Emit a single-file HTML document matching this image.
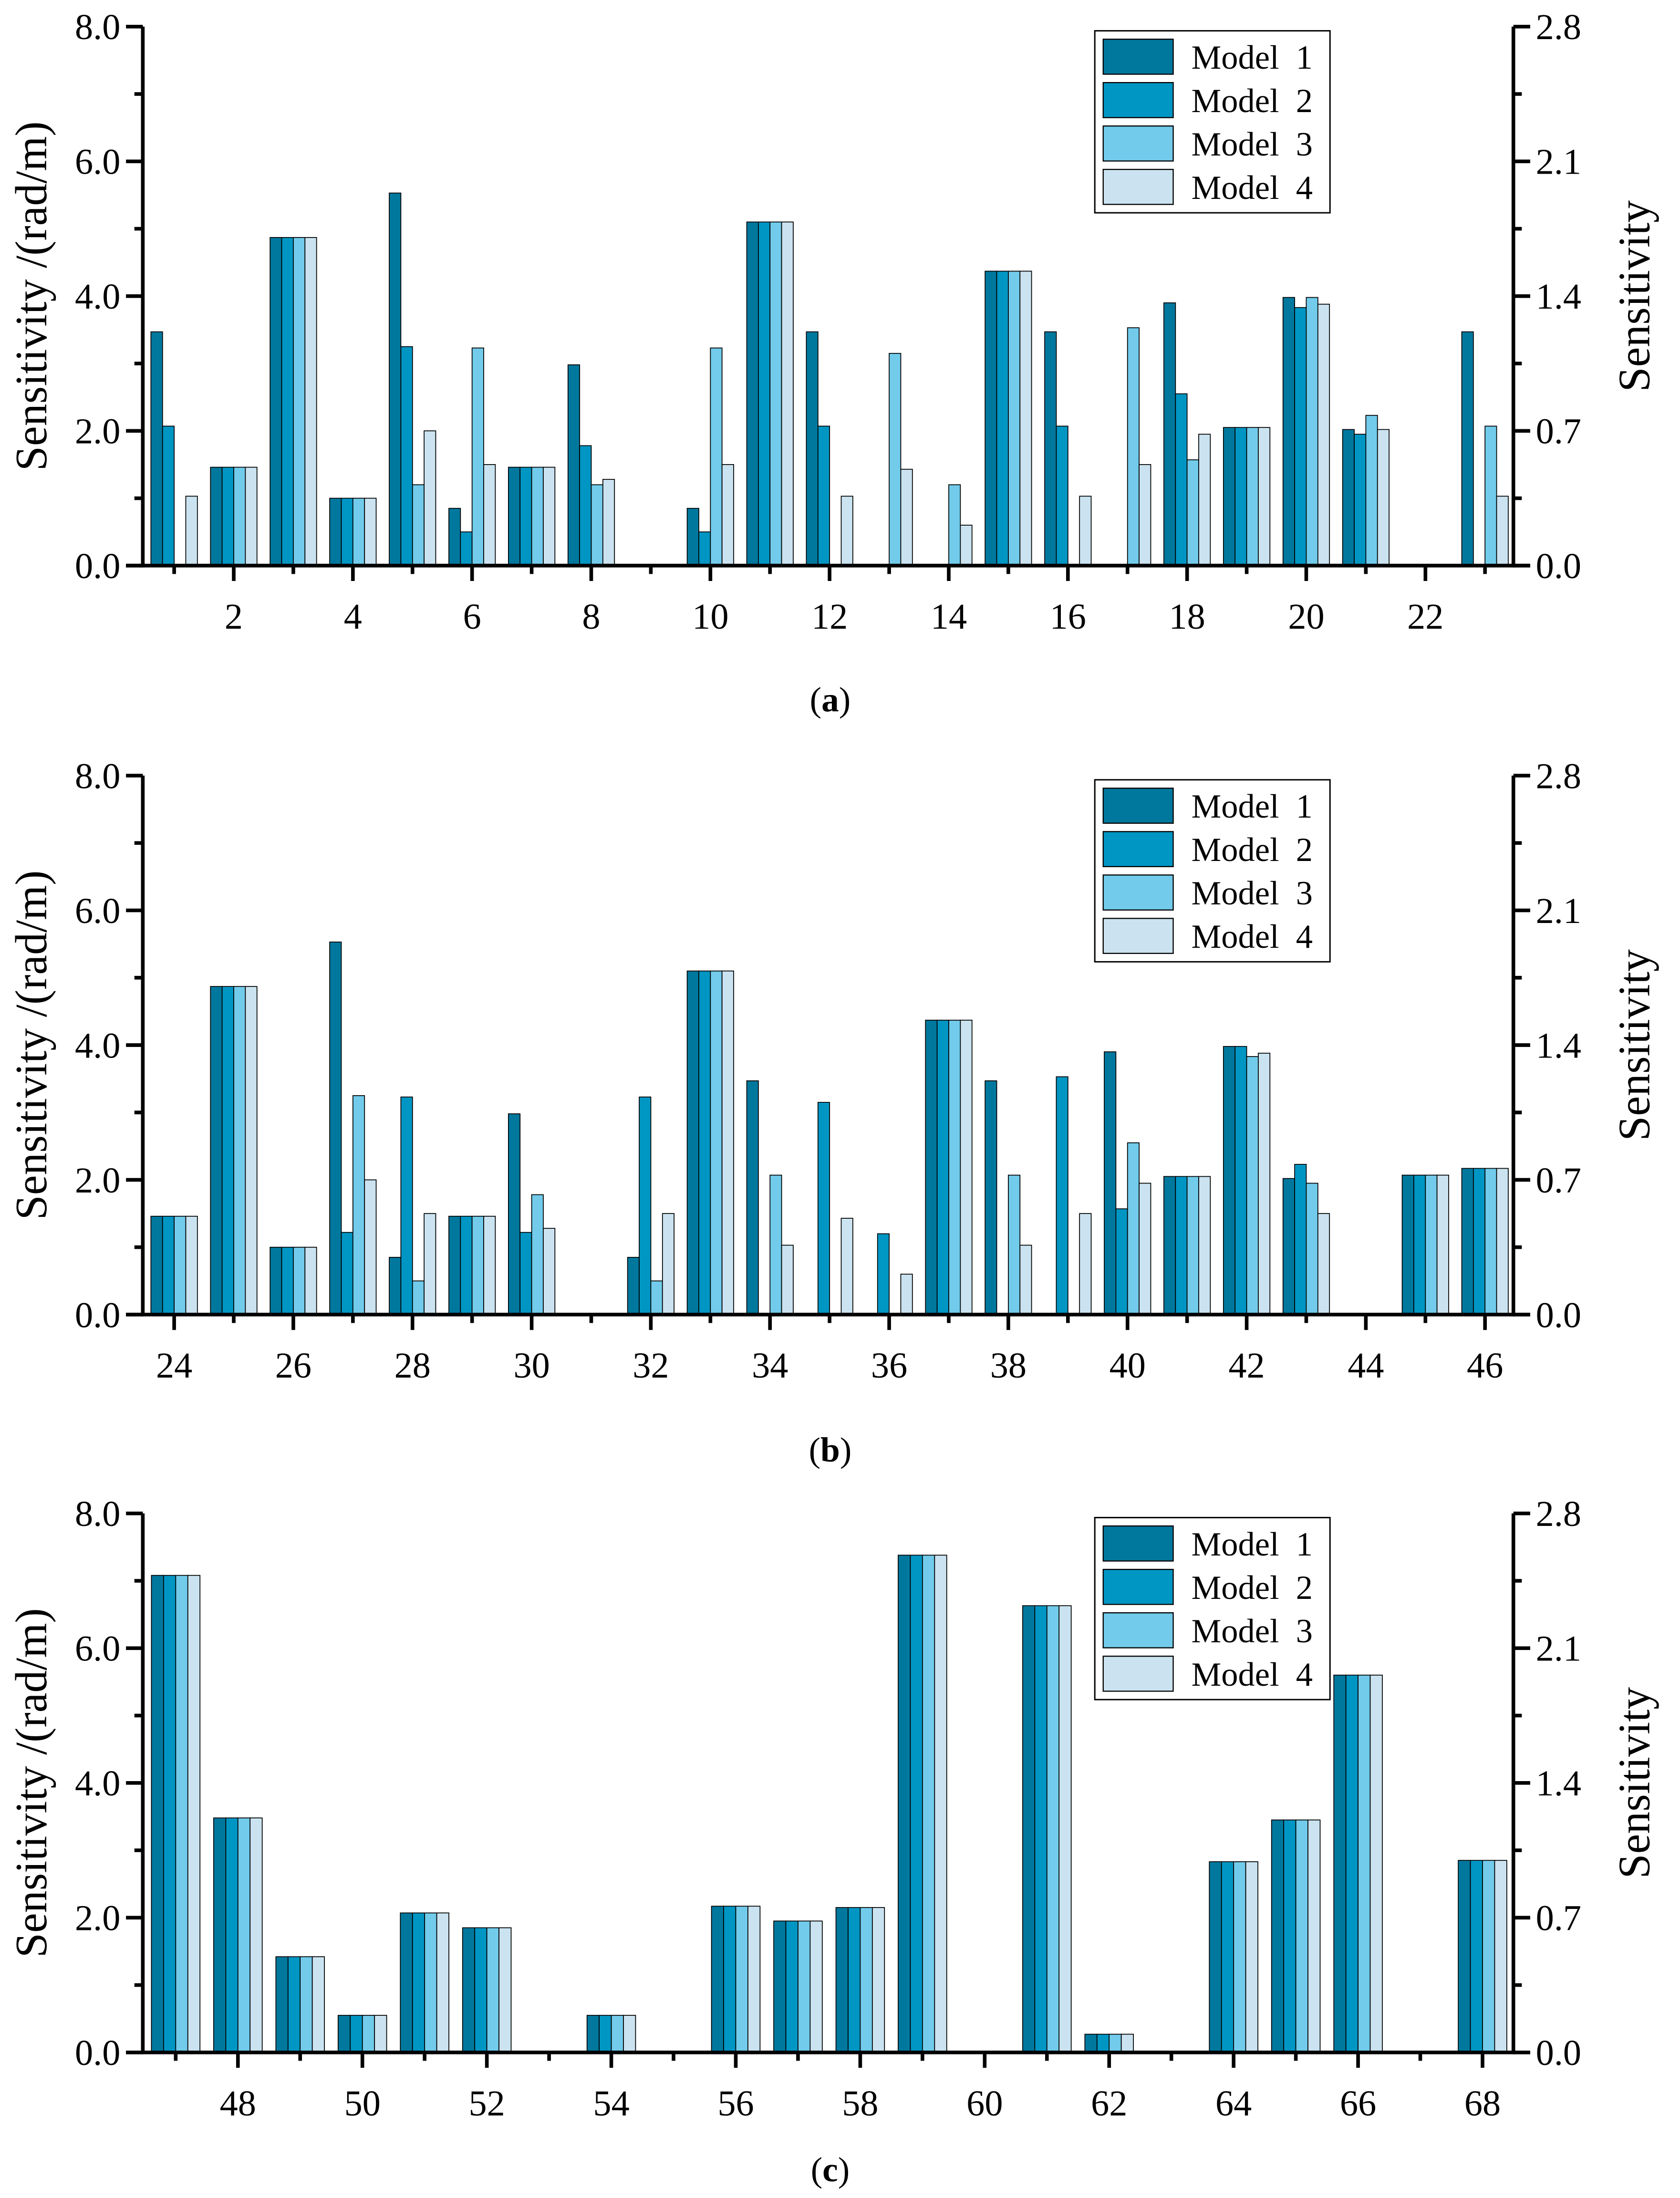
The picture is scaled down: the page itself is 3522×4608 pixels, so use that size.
<!DOCTYPE html>
<html><head><meta charset="utf-8"><style>
html,body{margin:0;padding:0;background:#fff;}
svg{display:block;}
svg text{font-family:"Liberation Serif","Times New Roman",serif;}
</style></head><body>
<svg id="fig" width="3522" height="4608" viewBox="0 0 1200 1570" preserveAspectRatio="none" xmlns="http://www.w3.org/2000/svg" font-family="Liberation Serif, serif"></svg>
<script>
const modelNames = ["Model  1","Model  2","Model  3","Model  4"];
const modelColors = ["#00789e","#0096c4","#72cbea","#cbe3f0"];
const yTicksLeft = ["0.0","2.0","4.0","6.0","8.0"];
const yTicksRight = ["0.0","0.7","1.4","2.1","2.8"];

const catsA = [1,2,3,4,5,6,7,8,9,10,11,12,13,14,15,16,17,18,19,20,21,22,23];
const a_m1 = [3.47,1.46,4.87,1.0,5.53,0.85,1.46,2.98,0,0.85,5.1,3.47,0,0,4.37,3.47,0,3.9,2.05,3.98,2.02,0,3.47];
const a_m2 = [2.07,1.46,4.87,1.0,3.25,0.5,1.46,1.78,0,0.5,5.1,2.07,0,0,4.37,2.07,0,2.55,2.05,3.83,1.95,0,0];
const a_m3 = [0,1.46,4.87,1.0,1.2,3.23,1.46,1.2,0,3.23,5.1,0,3.15,1.2,4.37,0,3.53,1.57,2.05,3.98,2.23,0,2.07];
const a_m4 = [1.03,1.46,4.87,1.0,2.0,1.5,1.46,1.28,0,1.5,5.1,1.03,1.43,0.6,4.37,1.03,1.5,1.95,2.05,3.88,2.02,0,1.03];

const catsB = [24,25,26,27,28,29,30,31,32,33,34,35,36,37,38,39,40,41,42,43,44,45,46];
const b_m1 = [1.46,4.87,1.0,5.53,0.85,1.46,2.98,0,0.85,5.1,3.47,0,0,4.37,3.47,0,3.9,2.05,3.98,2.02,0,2.07,2.17];
const b_m2 = [1.46,4.87,1.0,1.22,3.23,1.46,1.22,0,3.23,5.1,0,3.15,1.2,4.37,0,3.53,1.57,2.05,3.98,2.23,0,2.07,2.17];
const b_m3 = [1.46,4.87,1.0,3.25,0.5,1.46,1.78,0,0.5,5.1,2.07,0,0,4.37,2.07,0,2.55,2.05,3.83,1.95,0,2.07,2.17];
const b_m4 = [1.46,4.87,1.0,2.0,1.5,1.46,1.28,0,1.5,5.1,1.03,1.43,0.6,4.37,1.03,1.5,1.95,2.05,3.88,1.5,0,2.07,2.17];

const catsC = [47,48,49,50,51,52,53,54,55,56,57,58,59,60,61,62,63,64,65,66,67,68];
const c_all = [7.08,3.48,1.42,0.55,2.07,1.85,0,0.55,0,2.17,1.95,2.15,7.38,0,6.63,0.27,0,2.83,3.45,5.6,0,2.85];

const NS="http://www.w3.org/2000/svg";
const svg=document.getElementById('fig');
function mk(tag,attrs,parent){const e=document.createElementNS(NS,tag);for(const k in attrs)e.setAttribute(k,attrs[k]);(parent||svg).appendChild(e);return e;}

function panel(id, cats, series, top, bottom, firstX, step, caption, capY){
  const g=mk('g',{});
  
  
  const L=102,R=1081;
  const y=v=>bottom-(v/8)*(bottom-top);
  const x=c=>firstX+(c-cats[0])*step;
  const bw=step*0.195;
  cats.forEach((c,i)=>{
    series.forEach((s,k)=>{
      const v=s[i]; if(!v) return;
      const r=mk('rect',{x:x(c)-2*bw+k*bw,y:y(v),width:bw,height:bottom-y(v),fill:modelColors[k],stroke:'#000','stroke-width':0.6},g);
      
      
    });
  });
  const ax=mk('g',{stroke:'#000','stroke-width':2.6,fill:'none'},g);
  
  
  mk('line',{x1:L,y1:top,x2:L,y2:bottom+1.3},ax);
  mk('line',{x1:R,y1:top,x2:R,y2:bottom+1.3},ax);
  mk('line',{x1:L-12,y1:bottom,x2:R+12,y2:bottom},ax);
  for(let v=0;v<=8;v++){
    const len=v%2===0?12:6;
    mk('line',{x1:L-len,y1:y(v),x2:L,y2:y(v)},ax);
    mk('line',{x1:R,y1:y(v),x2:R+len,y2:y(v)},ax);
  }
  yTicksLeft.forEach((t,i)=>{
    const tx=mk('text',{x:L-16,y:y(i*2)+9,'text-anchor':'end','font-size':26},g);tx.textContent=t;
    
    
    const tr=mk('text',{x:R+16,y:y(i*2)+9,'font-size':26},g);tr.textContent=yTicksRight[i];
    
    
  });
  cats.forEach(c=>{
    const major=c%2===0;
    mk('line',{x1:x(c),y1:bottom,x2:x(c),y2:bottom+(major?11:6)},ax);
    if(major){
      const t=mk('text',{x:x(c),y:bottom+45,'text-anchor':'middle','font-size':26},g);t.textContent=c;
      
      
    }
  });
  const cy=(top+bottom)/2;
  const yt=mk('text',{x:0,y:0,'text-anchor':'middle','font-size':32,transform:`translate(33,${cy}) rotate(-90)`},g);
  yt.textContent='Sensitivity /(rad/m)';
  
  
  const yr=mk('text',{x:0,y:0,'text-anchor':'middle','font-size':32,transform:`translate(1178,${cy}) rotate(-90)`},g);
  yr.textContent='Sensitivity';
  
  
  const lg=mk('g',{},g);
  
  
  mk('rect',{x:782,y:top+3,width:168,height:130,fill:'#fff',stroke:'#000','stroke-width':1},lg);
  modelNames.forEach((n,k)=>{
    const ry=top+9+k*31;
    const e=mk('g',{},lg);
    
    
    mk('rect',{x:788,y:ry,width:50,height:25,fill:modelColors[k],stroke:'#000','stroke-width':0.8},e);
    const t=mk('text',{x:851,y:ry+21,'font-size':24},e);t.textContent=n;t.style.whiteSpace='pre';
  });
  const cp=mk('text',{x:593,y:capY,'text-anchor':'middle','font-size':25},g);
  cp.innerHTML='(<tspan font-weight="bold">'+caption+'</tspan>)';
  
  
}
panel('a',catsA,[a_m1,a_m2,a_m3,a_m4],19,404,124.4,42.56,'a',508);
panel('b',catsB,[b_m1,b_m2,b_m3,b_m4],554,939,124.4,42.56,'b',1044);
panel('c',catsC,[c_all,c_all,c_all,c_all],1081,1466,125.5,44.45,'c',1558);
</script>
</body></html>
